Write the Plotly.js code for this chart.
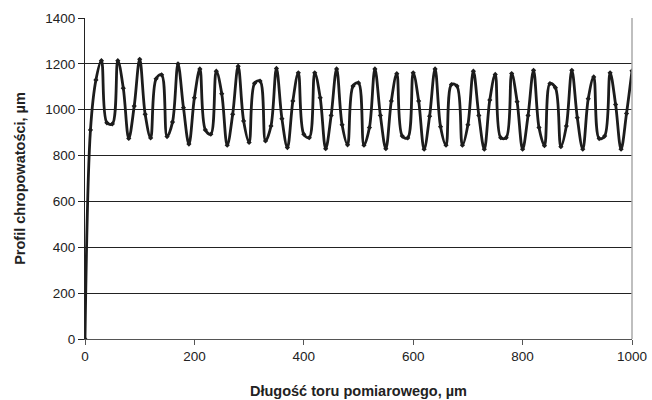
<!DOCTYPE html>
<html>
<head>
<meta charset="utf-8">
<script src="https://cdn.plot.ly/plotly-3.0.1.min.js"></script>
<style>html,body{margin:0;padding:0;background:#fff;}#chart{width:652px;height:400px;}</style>
</head>
<body>
<div id="chart"></div>
<script>
// Measurement positions (µm) and roughness profile values (µm)
var positions = [0,10,20,30,40,50,60,70,80,90,100,110,120,130,140,150,160,170,180,190,200,
210,220,230,240,250,260,270,280,290,300,310,320,330,340,350,360,370,380,390,400,
410,420,430,440,450,460,470,480,490,500,510,520,530,540,550,560,570,580,590,600,
610,620,630,640,650,660,670,680,690,700,710,720,730,740,750,760,770,780,790,800,
810,820,830,840,850,860,870,880,890,900,910,920,930,940,950,960,970,980,990,1000];
var profile = [0,912,1130,1214,943,938,1214,1094,875,1016,1220,980,877,1135,1152,883,946,1200,1009,850,1052,
1178,912,893,1168,1070,845,980,1190,951,857,1115,1125,864,929,1180,961,835,1038,1161,893,
878,1161,1052,830,975,1178,934,847,1103,1117,845,922,1178,975,830,1038,1157,885,877,1161,
1038,828,972,1178,926,845,1110,1103,845,934,1168,975,828,1042,1154,878,878,1158,1035,828,
975,1172,922,843,1114,1096,839,929,1172,965,828,1048,1143,874,885,1161,1023,828,984,1170];
var xTicks = [0,200,400,600,800,1000];
var yTicks = [0,200,400,600,800,1000,1200,1400];
var xTitle = 'Długość toru pomiarowego, µm';
var yTitle = 'Profil chropowatości, µm';

var trace = {
  x: positions, y: profile, type: 'scatter', mode: 'lines+markers',
  line: {color: '#1c1c1c', width: 2.8, shape: 'spline', smoothing: 1},
  marker: {symbol: 'diamond', size: 4, color: '#1c1c1c'},
  hoverinfo: 'none'
};
var fam = 'Liberation Sans, Arial, sans-serif';
var font = {family: fam, size: 13.5, color: '#222'};
var tfont = {family: fam, size: 14.5, color: '#222', weight: 'bold'};
var layout = {
  width: 652, height: 400,
  margin: {l: 85, r: 20, t: 18, b: 61},
  paper_bgcolor: '#fff', plot_bgcolor: '#fff',
  showlegend: false,
  font: font,
  xaxis: {
    range: [0, 1000], tickvals: xTicks, ticktext: xTicks.map(String),
    showgrid: false, zeroline: false, showline: true, linecolor: '#555', linewidth: 1,
    ticks: 'outside', ticklen: 5, tickcolor: '#555', tickfont: font,
    title: {text: xTitle, font: tfont, standoff: 22}
  },
  yaxis: {
    range: [0, 1400], tickvals: yTicks, ticktext: yTicks.map(String),
    showgrid: true, gridcolor: '#222', gridwidth: 1, zeroline: false,
    showline: true, linecolor: '#222', linewidth: 1,
    ticks: 'outside', ticklen: 6, tickcolor: '#222', tickfont: font,
    title: {text: yTitle, font: tfont, standoff: 16}
  },
  shapes: [{type: 'line', xref: 'paper', yref: 'paper', x0: 1, x1: 1, y0: 0, y1: 1, line: {color: '#aaa', width: 1.5}}]
};
Plotly.newPlot('chart', [trace], layout, {staticPlot: true, displayModeBar: false});
</script>
</body>
</html>
